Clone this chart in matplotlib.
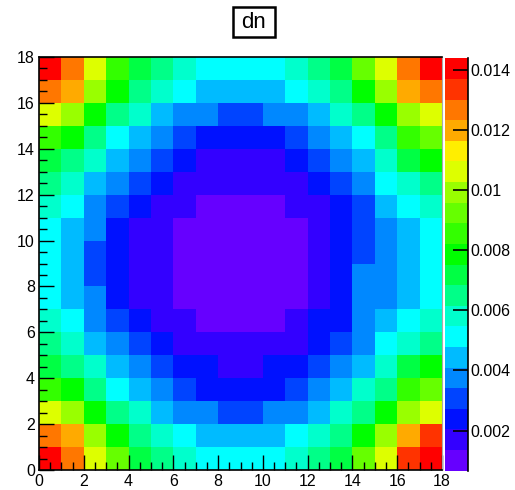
import matplotlib.pyplot as plt
import numpy as np
from matplotlib.colors import ListedColormap, BoundaryNorm
from matplotlib.patches import Rectangle

plt.rcParams['font.family'] = ['Liberation Sans', 'DejaVu Sans']

# bin edges of the 18 x 18 histogram
x_edges = np.arange(0, 19)
y_edges = np.arange(0, 19)

# dn per bin, rows run from y = 0 (bottom) to y = 17 (top)
dn = [
    [0.0140, 0.0127, 0.0106, 0.0092, 0.0072, 0.0065, 0.0058, 0.0051, 0.0051, 0.0051, 0.0051, 0.0058, 0.0065, 0.0072, 0.0092, 0.0106, 0.0133, 0.0140],
    [0.0127, 0.0120, 0.0099, 0.0079, 0.0065, 0.0058, 0.0051, 0.0044, 0.0044, 0.0044, 0.0044, 0.0051, 0.0058, 0.0065, 0.0079, 0.0099, 0.0120, 0.0133],
    [0.0106, 0.0099, 0.0079, 0.0065, 0.0058, 0.0044, 0.0038, 0.0038, 0.0031, 0.0031, 0.0038, 0.0038, 0.0044, 0.0058, 0.0065, 0.0079, 0.0099, 0.0106],
    [0.0085, 0.0079, 0.0065, 0.0051, 0.0044, 0.0038, 0.0031, 0.0024, 0.0024, 0.0024, 0.0024, 0.0031, 0.0038, 0.0044, 0.0058, 0.0065, 0.0085, 0.0092],
    [0.0072, 0.0065, 0.0058, 0.0044, 0.0038, 0.0031, 0.0024, 0.0024, 0.0017, 0.0017, 0.0024, 0.0024, 0.0031, 0.0038, 0.0044, 0.0058, 0.0072, 0.0079],
    [0.0065, 0.0058, 0.0044, 0.0038, 0.0031, 0.0024, 0.0017, 0.0017, 0.0017, 0.0017, 0.0017, 0.0017, 0.0024, 0.0031, 0.0038, 0.0051, 0.0058, 0.0065],
    [0.0058, 0.0051, 0.0038, 0.0031, 0.0024, 0.0017, 0.0017, 0.0010, 0.0010, 0.0010, 0.0010, 0.0017, 0.0024, 0.0024, 0.0038, 0.0044, 0.0051, 0.0058],
    [0.0051, 0.0044, 0.0038, 0.0024, 0.0017, 0.0017, 0.0010, 0.0010, 0.0010, 0.0010, 0.0010, 0.0010, 0.0017, 0.0024, 0.0038, 0.0038, 0.0044, 0.0051],
    [0.0051, 0.0044, 0.0031, 0.0024, 0.0017, 0.0017, 0.0010, 0.0010, 0.0010, 0.0010, 0.0010, 0.0010, 0.0017, 0.0024, 0.0038, 0.0038, 0.0044, 0.0051],
    [0.0051, 0.0044, 0.0031, 0.0024, 0.0017, 0.0017, 0.0010, 0.0010, 0.0010, 0.0010, 0.0010, 0.0010, 0.0017, 0.0024, 0.0031, 0.0038, 0.0044, 0.0051],
    [0.0051, 0.0044, 0.0038, 0.0024, 0.0017, 0.0017, 0.0010, 0.0010, 0.0010, 0.0010, 0.0010, 0.0010, 0.0017, 0.0024, 0.0031, 0.0038, 0.0044, 0.0051],
    [0.0058, 0.0051, 0.0038, 0.0031, 0.0024, 0.0017, 0.0017, 0.0010, 0.0010, 0.0010, 0.0010, 0.0017, 0.0017, 0.0024, 0.0031, 0.0044, 0.0051, 0.0058],
    [0.0065, 0.0058, 0.0044, 0.0038, 0.0031, 0.0024, 0.0017, 0.0017, 0.0017, 0.0017, 0.0017, 0.0017, 0.0024, 0.0031, 0.0038, 0.0051, 0.0058, 0.0065],
    [0.0072, 0.0065, 0.0058, 0.0044, 0.0038, 0.0031, 0.0024, 0.0017, 0.0017, 0.0017, 0.0017, 0.0024, 0.0031, 0.0038, 0.0044, 0.0058, 0.0072, 0.0079],
    [0.0085, 0.0079, 0.0065, 0.0051, 0.0044, 0.0038, 0.0031, 0.0024, 0.0024, 0.0024, 0.0024, 0.0031, 0.0038, 0.0044, 0.0051, 0.0065, 0.0085, 0.0092],
    [0.0106, 0.0099, 0.0079, 0.0065, 0.0058, 0.0044, 0.0038, 0.0038, 0.0031, 0.0031, 0.0038, 0.0038, 0.0044, 0.0058, 0.0065, 0.0079, 0.0099, 0.0106],
    [0.0127, 0.0120, 0.0099, 0.0079, 0.0065, 0.0058, 0.0051, 0.0044, 0.0044, 0.0044, 0.0044, 0.0051, 0.0058, 0.0065, 0.0079, 0.0099, 0.0120, 0.0127],
    [0.0140, 0.0127, 0.0106, 0.0085, 0.0072, 0.0065, 0.0058, 0.0051, 0.0051, 0.0051, 0.0051, 0.0058, 0.0065, 0.0072, 0.0092, 0.0106, 0.0127, 0.0140],
]

z_min = 0.00067
z_max = 0.01437
n_levels = 20
cbar_ticks = [0.002, 0.004, 0.006, 0.008, 0.010, 0.012, 0.014]
cbar_labels = ['0.002', '0.004', '0.006', '0.008', '0.01', '0.012', '0.014']

# rainbow palette, violet -> red
palette = ['#6600ff', '#3300ff', '#0011ff', '#0044ff', '#0088ff',
           '#00bbff', '#00ffff', '#00ffcc', '#00ff88', '#00ff44',
           '#00ff00', '#33ff00', '#66ff00', '#99ff00', '#ddff00',
           '#ffee00', '#ffaa00', '#ff7700', '#ff3300', '#ff0000']

cmap = ListedColormap(palette)
norm = BoundaryNorm(np.linspace(z_min, z_max, n_levels + 1), n_levels)

fig = plt.figure(figsize=(5.15, 4.9), dpi=100)
ax = fig.add_axes([39 / 515, 20 / 490, 403 / 515, 413 / 490])
cax = fig.add_axes([445 / 515, 19.5 / 490, 23 / 515, 412 / 490])

mesh = ax.pcolormesh(x_edges, y_edges, np.array(dn), cmap=cmap, norm=norm)
ax.set_xlim(0, 18)
ax.set_ylim(0, 18)
ax.set_xticks(np.arange(0, 19, 2))
ax.set_yticks(np.arange(0, 19, 2))
ax.set_xticks(np.arange(0, 18.1, 0.5), minor=True)
ax.set_yticks(np.arange(0, 18.1, 0.5), minor=True)
ax.tick_params(which='both', direction='in', top=False, right=False,
               labelsize=11.5, color='black', width=1.0)
ax.tick_params(which='major', length=11, pad=3)
ax.tick_params(which='minor', length=5.5)
for side in ['left', 'bottom', 'top']:
    ax.spines[side].set_linewidth(1.2)
ax.spines['right'].set_color('#aaaaaa')

cb = fig.colorbar(mesh, cax=cax)
cb.outline.set_visible(False)
cb.set_ticks(cbar_ticks)
cb.set_ticklabels(cbar_labels)
cb.minorticks_off()
cax.tick_params(direction='in', length=11, width=1.2, pad=2, labelsize=11.5)
cax.plot([1, 1], [0, 1], transform=cax.transAxes, color='black',
         lw=1.2, clip_on=False)

# title box
fig.patches.append(Rectangle((233 / 515, 453 / 490), 42 / 515, 30 / 490,
                             transform=fig.transFigure, fc='white',
                             ec='black', lw=1.8))
fig.text(254 / 515, 468 / 490, 'dn', ha='center', va='center', fontsize=16)

fig.savefig('out.png', dpi=100)
